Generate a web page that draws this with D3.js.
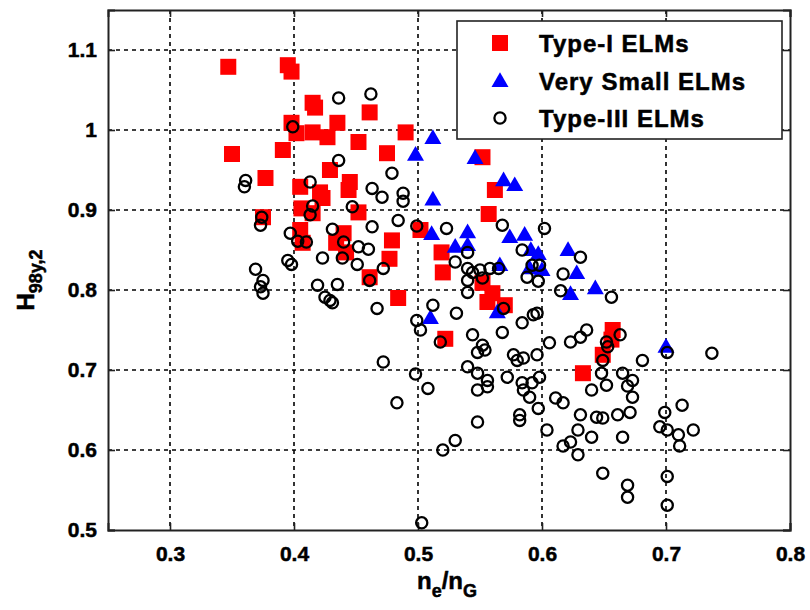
<!DOCTYPE html>
<html>
<head>
<meta charset="utf-8">
<script src="https://cdnjs.cloudflare.com/ajax/libs/d3/7.8.5/d3.min.js"></script>
<style>
  body { margin: 0; background: #fff; }
  text { font-family: Arial, "Liberation Sans", sans-serif; font-weight: bold; }
</style>
</head>
<body>
<div id="chart"></div>
<script>
// Type-I ELMs (red squares): [ne/nG, H98y2]
var typeI = [
  [0.347,1.079],[0.395,1.081],[0.398,1.073],[0.350,0.970],[0.377,0.940],[0.375,0.891],
  [0.415,1.034],[0.417,1.028],[0.398,1.009],[0.402,0.996],[0.391,0.975],[0.415,0.997],
  [0.427,0.991],[0.435,1.009],[0.452,0.985],[0.461,1.022],[0.475,0.971],[0.490,0.997],
  [0.429,0.950],[0.405,0.929],[0.421,0.922],[0.423,0.915],[0.445,0.935],[0.444,0.925],
  [0.406,0.902],[0.415,0.896],[0.452,0.897],[0.405,0.875],[0.407,0.859],[0.440,0.871],
  [0.434,0.859],[0.442,0.847],[0.479,0.862],[0.477,0.839],[0.461,0.816],[0.484,0.790],
  [0.552,0.966],[0.562,0.925],[0.557,0.895],[0.502,0.875],[0.519,0.847],[0.520,0.822],
  [0.552,0.809],[0.560,0.796],[0.556,0.785],[0.570,0.781],[0.522,0.739],[0.633,0.696],
  [0.657,0.750],[0.656,0.738],[0.649,0.719]
];

// Very small ELMs (blue triangles)
var verySmall = [
  [0.512,0.990],[0.498,0.969],[0.546,0.965],[0.569,0.937],[0.578,0.931],[0.512,0.913],
  [0.511,0.870],[0.540,0.872],[0.540,0.856],[0.530,0.854],[0.574,0.866],[0.586,0.869],
  [0.591,0.850],[0.597,0.845],[0.566,0.831],[0.590,0.827],[0.600,0.825],[0.621,0.850],
  [0.628,0.821],[0.643,0.802],[0.623,0.795],[0.564,0.772],[0.510,0.765],[0.700,0.729]
];

// Type-III ELMs (black open circles)
var typeIII = [
  [0.436,1.040],[0.462,1.045],[0.399,1.004],[0.436,0.962],[0.479,0.946],[0.413,0.935],
  [0.361,0.937],[0.360,0.929],[0.463,0.927],[0.471,0.916],[0.488,0.921],[0.488,0.911],
  [0.415,0.905],[0.413,0.894],[0.447,0.904],[0.484,0.887],[0.463,0.879],[0.499,0.880],
  [0.523,0.877],[0.374,0.891],[0.373,0.881],[0.397,0.871],[0.403,0.861],[0.410,0.860],
  [0.431,0.876],[0.440,0.860],[0.452,0.854],[0.460,0.851],[0.423,0.840],[0.439,0.840],
  [0.451,0.832],[0.472,0.827],[0.461,0.812],[0.395,0.837],[0.398,0.832],[0.369,0.826],
  [0.375,0.812],[0.373,0.804],[0.375,0.796],[0.419,0.806],[0.435,0.807],[0.425,0.791],
  [0.429,0.787],[0.431,0.784],[0.467,0.777],[0.499,0.762],[0.502,0.750],[0.472,0.710],
  [0.498,0.695],[0.508,0.677],[0.483,0.659],[0.520,0.600],[0.530,0.612],[0.503,0.509],
  [0.568,0.881],[0.602,0.877],[0.540,0.847],[0.584,0.850],[0.631,0.841],[0.530,0.835],
  [0.540,0.827],[0.544,0.822],[0.550,0.825],[0.558,0.827],[0.565,0.827],[0.552,0.815],
  [0.540,0.812],[0.592,0.831],[0.598,0.831],[0.588,0.816],[0.597,0.811],[0.617,0.820],
  [0.615,0.799],[0.540,0.797],[0.512,0.781],[0.531,0.771],[0.569,0.777],[0.593,0.769],
  [0.596,0.771],[0.584,0.759],[0.568,0.747],[0.544,0.744],[0.552,0.731],[0.554,0.725],
  [0.548,0.722],[0.518,0.735],[0.577,0.719],[0.585,0.715],[0.596,0.719],[0.606,0.734],
  [0.623,0.735],[0.631,0.741],[0.636,0.750],[0.656,0.791],[0.663,0.744],[0.652,0.735],
  [0.653,0.729],[0.649,0.712],[0.681,0.712],[0.701,0.722],[0.737,0.721],[0.540,0.704],
  [0.548,0.696],[0.572,0.691],[0.598,0.691],[0.556,0.687],[0.556,0.679],[0.548,0.675],
  [0.584,0.684],[0.592,0.684],[0.585,0.675],[0.590,0.666],[0.597,0.652],[0.582,0.644],
  [0.582,0.637],[0.611,0.665],[0.617,0.659],[0.604,0.625],[0.548,0.635],[0.580,0.712],
  [0.648,0.696],[0.652,0.681],[0.640,0.675],[0.665,0.696],[0.673,0.687],[0.669,0.680],
  [0.673,0.666],[0.671,0.647],[0.661,0.644],[0.644,0.641],[0.649,0.640],[0.631,0.644],
  [0.629,0.625],[0.640,0.616],[0.665,0.616],[0.623,0.610],[0.617,0.605],[0.629,0.594],
  [0.649,0.571],[0.669,0.556],[0.669,0.541],[0.699,0.647],[0.713,0.656],[0.695,0.629],
  [0.701,0.625],[0.710,0.619],[0.722,0.625],[0.711,0.605],[0.701,0.567],[0.701,0.531]
];

var xTicks = [0.3, 0.4, 0.5, 0.6, 0.7, 0.8];
var yTicks = [0.5, 0.6, 0.7, 0.8, 0.9, 1.0, 1.1];
var legendLabels = ["Type-I ELMs", "Very Small ELMs", "Type-III ELMs"];

var width = 810, height = 610;
var margin = { top: 10, right: 20, bottom: 80, left: 108 };
var plotW = width - margin.left - margin.right;
var plotH = height - margin.top - margin.bottom;

var svg = d3.select("#chart").append("svg")
  .attr("width", width)
  .attr("height", height);

var x = d3.scaleLinear().domain([0.25, 0.8]).range([0, plotW]);
var y = d3.scaleLinear().domain([0.5, 1.15]).range([plotH, 0]);

var g = svg.append("g").attr("transform", "translate(" + margin.left + "," + margin.top + ")");

// dashed grid
g.selectAll(".vgrid").data(xTicks.filter(function (d) { return d < 0.8; }))
  .enter().append("line")
  .attr("x1", function (d) { return x(d); }).attr("x2", function (d) { return x(d); })
  .attr("y1", 0).attr("y2", plotH)
  .attr("stroke", "#000").attr("stroke-width", 1.6).attr("stroke-dasharray", "4,4");

g.selectAll(".hgrid").data(yTicks.filter(function (d) { return d > 0.5; }))
  .enter().append("line")
  .attr("x1", 0).attr("x2", plotW)
  .attr("y1", function (d) { return y(d); }).attr("y2", function (d) { return y(d); })
  .attr("stroke", "#000").attr("stroke-width", 1.6).attr("stroke-dasharray", "4,4");

// axes (ticks inward, MATLAB style)
var tickLen = 7;
g.append("g").attr("transform", "translate(0," + plotH + ")")
  .call(d3.axisBottom(x).tickValues(xTicks).tickSize(-tickLen).tickPadding(16)
    .tickFormat(d3.format("")));
g.append("g")
  .call(d3.axisLeft(y).tickValues(yTicks).tickSize(-tickLen).tickPadding(11)
    .tickFormat(function (d) { return d === 1 ? "1" : d3.format("")(d); }));
g.append("g").call(d3.axisTop(x).tickValues(xTicks).tickSize(-tickLen).tickFormat(""));
g.append("g").attr("transform", "translate(" + plotW + ",0)")
  .call(d3.axisRight(y).tickValues(yTicks).tickSize(-tickLen).tickFormat(""));

g.selectAll(".domain").attr("stroke", "#222").attr("stroke-width", 2);
g.selectAll(".tick line").attr("stroke", "#222").attr("stroke-width", 1.6);
g.selectAll(".tick text").style("font-size", "21px").style("font-weight", "bold")
  .attr("fill", "#000").attr("stroke", "#000").attr("stroke-width", 0.5);

// markers
g.selectAll(".sq").data(typeI).enter().append("rect")
  .attr("x", function (d) { return x(d[0]) - 8; })
  .attr("y", function (d) { return y(d[1]) - 8; })
  .attr("width", 16).attr("height", 16)
  .attr("fill", "#ff0000");

var tri = d3.symbol().type(d3.symbolTriangle).size(125);
g.selectAll(".tri").data(verySmall).enter().append("path")
  .attr("d", tri)
  .attr("transform", function (d) { return "translate(" + x(d[0]) + "," + (y(d[1]) + 1) + ")"; })
  .attr("fill", "#0000ff");

g.selectAll(".circ").data(typeIII).enter().append("circle")
  .attr("cx", function (d) { return x(d[0]); })
  .attr("cy", function (d) { return y(d[1]); })
  .attr("r", 5.6)
  .attr("fill", "none").attr("stroke", "#000").attr("stroke-width", 2.3);

// legend
var leg = svg.append("g").attr("transform", "translate(457,21)");
leg.append("rect").attr("width", 325).attr("height", 118)
  .attr("fill", "#fff").attr("stroke", "#222").attr("stroke-width", 1.6);

var rowY = [22, 60, 97];
leg.append("rect").attr("x", 35).attr("y", rowY[0] - 8).attr("width", 16).attr("height", 16)
  .attr("fill", "#ff0000");
leg.append("path").attr("d", tri)
  .attr("transform", "translate(43," + (rowY[1] + 1) + ")").attr("fill", "#0000ff");
leg.append("circle").attr("cx", 43).attr("cy", rowY[2]).attr("r", 5.6)
  .attr("fill", "none").attr("stroke", "#000").attr("stroke-width", 2.3);

leg.selectAll(".lt").data(legendLabels).enter().append("text")
  .attr("x", 82)
  .attr("y", function (d, i) { return rowY[i] + 9; })
  .style("font-size", "24px")
  .style("letter-spacing", "1px")
  .attr("stroke", "#000").attr("stroke-width", 0.5)
  .text(function (d) { return d; });

// axis labels
var xl = svg.append("text")
  .attr("x", margin.left + plotW / 2 - 2)
  .attr("y", 589)
  .attr("text-anchor", "middle")
  .attr("stroke", "#000").attr("stroke-width", 0.5)
  .style("font-size", "24px");
xl.append("tspan").text("n");
xl.append("tspan").attr("dy", 8).style("font-size", "18px").text("e");
xl.append("tspan").attr("dy", -8).text("/n");
xl.append("tspan").attr("dy", 8).style("font-size", "18px").text("G");

var yl = svg.append("text")
  .attr("transform", "translate(34," + (margin.top + plotH / 2 + 10) + ") rotate(-90)")
  .attr("text-anchor", "middle")
  .attr("stroke", "#000").attr("stroke-width", 0.5)
  .style("font-size", "24px");
yl.append("tspan").text("H");
yl.append("tspan").attr("dy", 8).style("font-size", "18px").text("98y,2");
</script>
</body>
</html>
